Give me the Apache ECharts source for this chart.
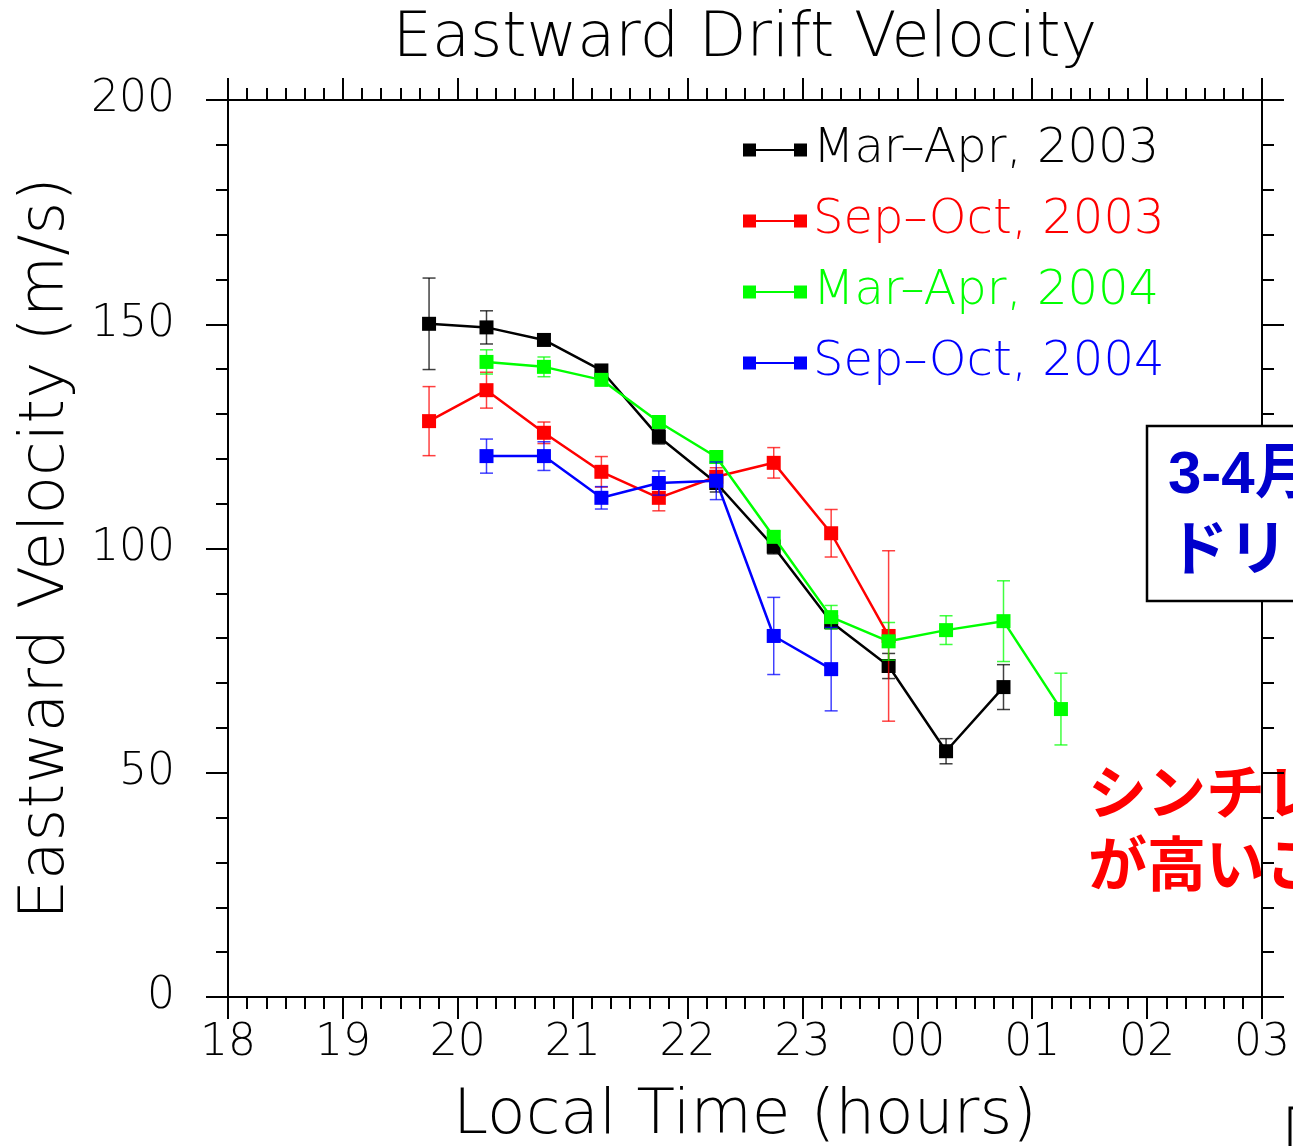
<!DOCTYPE html>
<html>
<head>
<meta charset="utf-8">
<script src="https://cdn.jsdelivr.net/npm/echarts@6/dist/echarts.min.js"></script>
<style>
  html, body { margin: 0; padding: 0; background: #fff; }
  #chart { width: 1293px; height: 1146px; }
</style>
</head>
<body>
<div id="chart"></div>
<script>
// Local time of each bin (hours after midnight are written as 24+)
const hours = [19.75, 20.25, 20.75, 21.25, 21.75, 22.25, 22.75, 23.25, 23.75, 24.25, 24.75, 25.25];

// Mean eastward drift (m/s) and its error per bin
const marApr2003    = [150.1, 149.3, 146.5, 139.7, 124.9, 114.6, 100.4, 83.6, 73.8, 54.8, 69.1, null];
const marApr2003Err = [10.2, 3.7, 1.2, 1.2, 1.6, 2.0, 1.6, 1.5, 2.8, 2.8, 5.0, null];
const sepOct2003    = [128.4, 135.3, 125.8, 117.1, 111.3, 116.0, 119.1, 103.4, 80.5, null, null, null];
const sepOct2003Err = [7.7, 4.0, 2.4, 3.4, 2.9, 2.0, 3.4, 5.3, 19.0, null, null, null];
const marApr2004    = [null, 141.6, 140.5, 137.6, 128.2, 120.4, 102.6, 84.7, 79.3, 81.8, 83.8, 64.2];
const marApr2004Err = [null, 2.7, 2.2, 1.2, 1.2, 1.2, 1.2, 2.6, 4.2, 3.2, 9.0, 8.0];
const sepOct2004    = [null, 120.6, 120.6, 111.3, 114.6, 115.1, 80.5, 73.1, null, null, null, null];
const sepOct2004Err = [null, 3.8, 3.2, 2.5, 2.7, 4.2, 8.6, 9.3, null, null, null, null];

const seriesNames = ['Mar\u2013Apr, 2003', 'Sep\u2013Oct, 2003', 'Mar\u2013Apr, 2004', 'Sep\u2013Oct, 2004'];
const seriesColors = ['#000000', '#ff0000', '#00ff00', '#0000ff'];

// Hour axis labels, 18 LT through 03 LT
const xTickValues = [18, 19, 20, 21, 22, 23, 24, 25, 26, 27];
const xTickLabels = ['18', '19', '20', '21', '22', '23', '00', '01', '02', '03'];

// Annotation texts
const noteBlue = ['3-4月の方が', 'ドリフト速度が大きい'];
const noteRed = ['シンチレーション発生率', 'が高いことに対応'];

const FONT = '"DejaVu Sans", sans-serif';
const JFONT = '"Liberation Sans", "Noto Sans CJK JP", sans-serif';

const allValues = [marApr2003, sepOct2003, marApr2004, sepOct2004];
const allErrors = [marApr2003Err, sepOct2003Err, marApr2004Err, sepOct2004Err];

function points(vals) {
  const out = [];
  hours.forEach((h, i) => { if (vals[i] != null) out.push([h, vals[i]]); });
  return out;
}
function errPoints(vals, errs) {
  const out = [];
  hours.forEach((h, i) => { if (vals[i] != null) out.push([h, vals[i], errs[i]]); });
  return out;
}

function errorBarRenderer(color) {
  return function (params, api) {
    const x = api.value(0), y = api.value(1), e = api.value(2);
    const hi = api.coord([x, y + e]);
    const lo = api.coord([x, y - e]);
    const hw = 6.5;
    const style = { stroke: color, lineWidth: 1.5, opacity: 0.75 };
    return {
      type: 'group',
      children: [
        { type: 'line', shape: { x1: hi[0], y1: hi[1], x2: lo[0], y2: lo[1] }, style },
        { type: 'line', shape: { x1: hi[0] - hw, y1: hi[1], x2: hi[0] + hw, y2: hi[1] }, style },
        { type: 'line', shape: { x1: lo[0] - hw, y1: lo[1], x2: lo[0] + hw, y2: lo[1] }, style }
      ]
    };
  };
}

const series = [];
allValues.forEach((vals, k) => {
  series.push({
    type: 'custom',
    name: seriesNames[k] + ' error',
    xAxisIndex: 0, yAxisIndex: 0,
    renderItem: errorBarRenderer(seriesColors[k]),
    encode: { x: 0, y: 1 },
    data: errPoints(vals, allErrors[k]),
    z: 2 + k * 2,
    silent: true
  });
  series.push({
    type: 'line',
    name: seriesNames[k],
    xAxisIndex: 0, yAxisIndex: 0,
    data: points(vals),
    symbol: 'rect',
    symbolSize: 14,
    showSymbol: true,
    color: seriesColors[k],
    itemStyle: { color: seriesColors[k] },
    lineStyle: { color: seriesColors[k], width: 2.5 },
    z: 3 + k * 2
  });
});

const axisLine = { show: true, onZero: false, lineStyle: { color: '#000', width: 2 } };
const tickStyle = { color: '#000', width: 2 };

function xAxisDef(position, withLabels) {
  return {
    type: 'value', position, min: 18, max: 27, interval: 1,
    axisLine,
    axisTick: { show: true, inside: false, length: 22, lineStyle: tickStyle },
    minorTick: { show: true, splitNumber: 6, length: 12, lineStyle: tickStyle },
    splitLine: { show: false },
    minorSplitLine: { show: false },
    axisLabel: {
      show: withLabels, fontSize: 44, fontFamily: FONT, fontWeight: 200, color: '#000', margin: 25,
      formatter: v => xTickLabels[xTickValues.indexOf(Math.round(v))]
    },
    name: withLabels ? 'Local Time (hours)' : '',
    nameLocation: 'middle', nameGap: 88,
    nameTextStyle: { fontSize: 63, fontFamily: FONT, fontWeight: 200, color: '#000' }
  };
}
function yAxisDef(position, withLabels) {
  return {
    type: 'value', position, min: 0, max: 200, interval: 50,
    axisLine,
    axisTick: { show: true, inside: false, length: 22, lineStyle: tickStyle },
    minorTick: { show: true, splitNumber: 5, length: 12, lineStyle: tickStyle },
    splitLine: { show: false },
    minorSplitLine: { show: false },
    axisLabel: { show: withLabels, fontSize: 44, fontFamily: FONT, fontWeight: 200, color: '#000', margin: 53 },
    name: withLabels ? 'Eastward Velocity (m/s)' : '',
    nameLocation: 'middle', nameGap: 150, nameRotate: 90,
    nameTextStyle: { fontSize: 63, fontFamily: FONT, fontWeight: 200, color: '#000' }
  };
}

const chart = echarts.init(document.getElementById('chart'), null, { renderer: 'canvas' });
chart.setOption({
  animation: false,
  backgroundColor: '#fff',
  grid: { left: 228, right: 31, top: 100, bottom: 149, outerBoundsMode: 'none', containLabel: false },
  xAxis: [xAxisDef('bottom', true), xAxisDef('top', false)],
  yAxis: [yAxisDef('left', true), yAxisDef('right', false)],
  legend: {
    orient: 'vertical',
    left: 738,
    top: 119,
    itemWidth: 64,
    itemHeight: 13,
    itemGap: 19,
    icon: 'path://M0,0H13V13H0Z M13,5.5H51V7.5H13Z M51,0H64V13H51Z',
    selectedMode: false,
    data: seriesNames.map((n, k) => ({
      name: n,
      itemStyle: { color: seriesColors[k] },
      textStyle: { color: seriesColors[k] }
    })),
    textStyle: { fontSize: 48, fontFamily: FONT, fontWeight: 200, lineHeight: 52, padding: [0, 0, 0, 1] }
  },
  graphic: [
    {
      // chart title, centred over the plot frame
      type: 'text',
      x: 745, y: 40,
      style: {
        text: 'Eastward Drift Velocity', fill: '#000',
        font: '200 62px ' + FONT,
        textAlign: 'center', textVerticalAlign: 'middle'
      }
    },
    {
      type: 'text', z: -1,
      x: 1088, y: 798,
      style: {
        text: noteRed[0], fill: '#ff0000', font: 'bold 59px ' + JFONT,
        textAlign: 'left', textVerticalAlign: 'middle'
      }
    },
    {
      type: 'text', z: -1,
      x: 1088, y: 870,
      style: {
        text: noteRed[1], fill: '#ff0000', font: 'bold 59px ' + JFONT,
        textAlign: 'left', textVerticalAlign: 'middle'
      }
    },
    {
      type: 'rect', z: 100,
      shape: { x: 1147, y: 426, width: 500, height: 175 },
      style: { fill: '#fff', stroke: '#000', lineWidth: 2.5 }
    },
    {
      type: 'text', z: 101,
      x: 1168, y: 476,
      style: {
        text: noteBlue[0], fill: '#0000cc', font: 'bold 60px ' + JFONT,
        textAlign: 'left', textVerticalAlign: 'middle'
      }
    },
    {
      type: 'text', z: 101,
      x: 1168, y: 553,
      style: {
        text: noteBlue[1], fill: '#0000cc', font: 'bold 60px ' + JFONT,
        textAlign: 'left', textVerticalAlign: 'middle'
      }
    },
    {
      type: 'rect', z: 100,
      shape: { x: 1290, y: 1108, width: 300, height: 100 },
      style: { fill: '#fff', stroke: '#000', lineWidth: 3 }
    }
  ],
  series
});
</script>
</body>
</html>
